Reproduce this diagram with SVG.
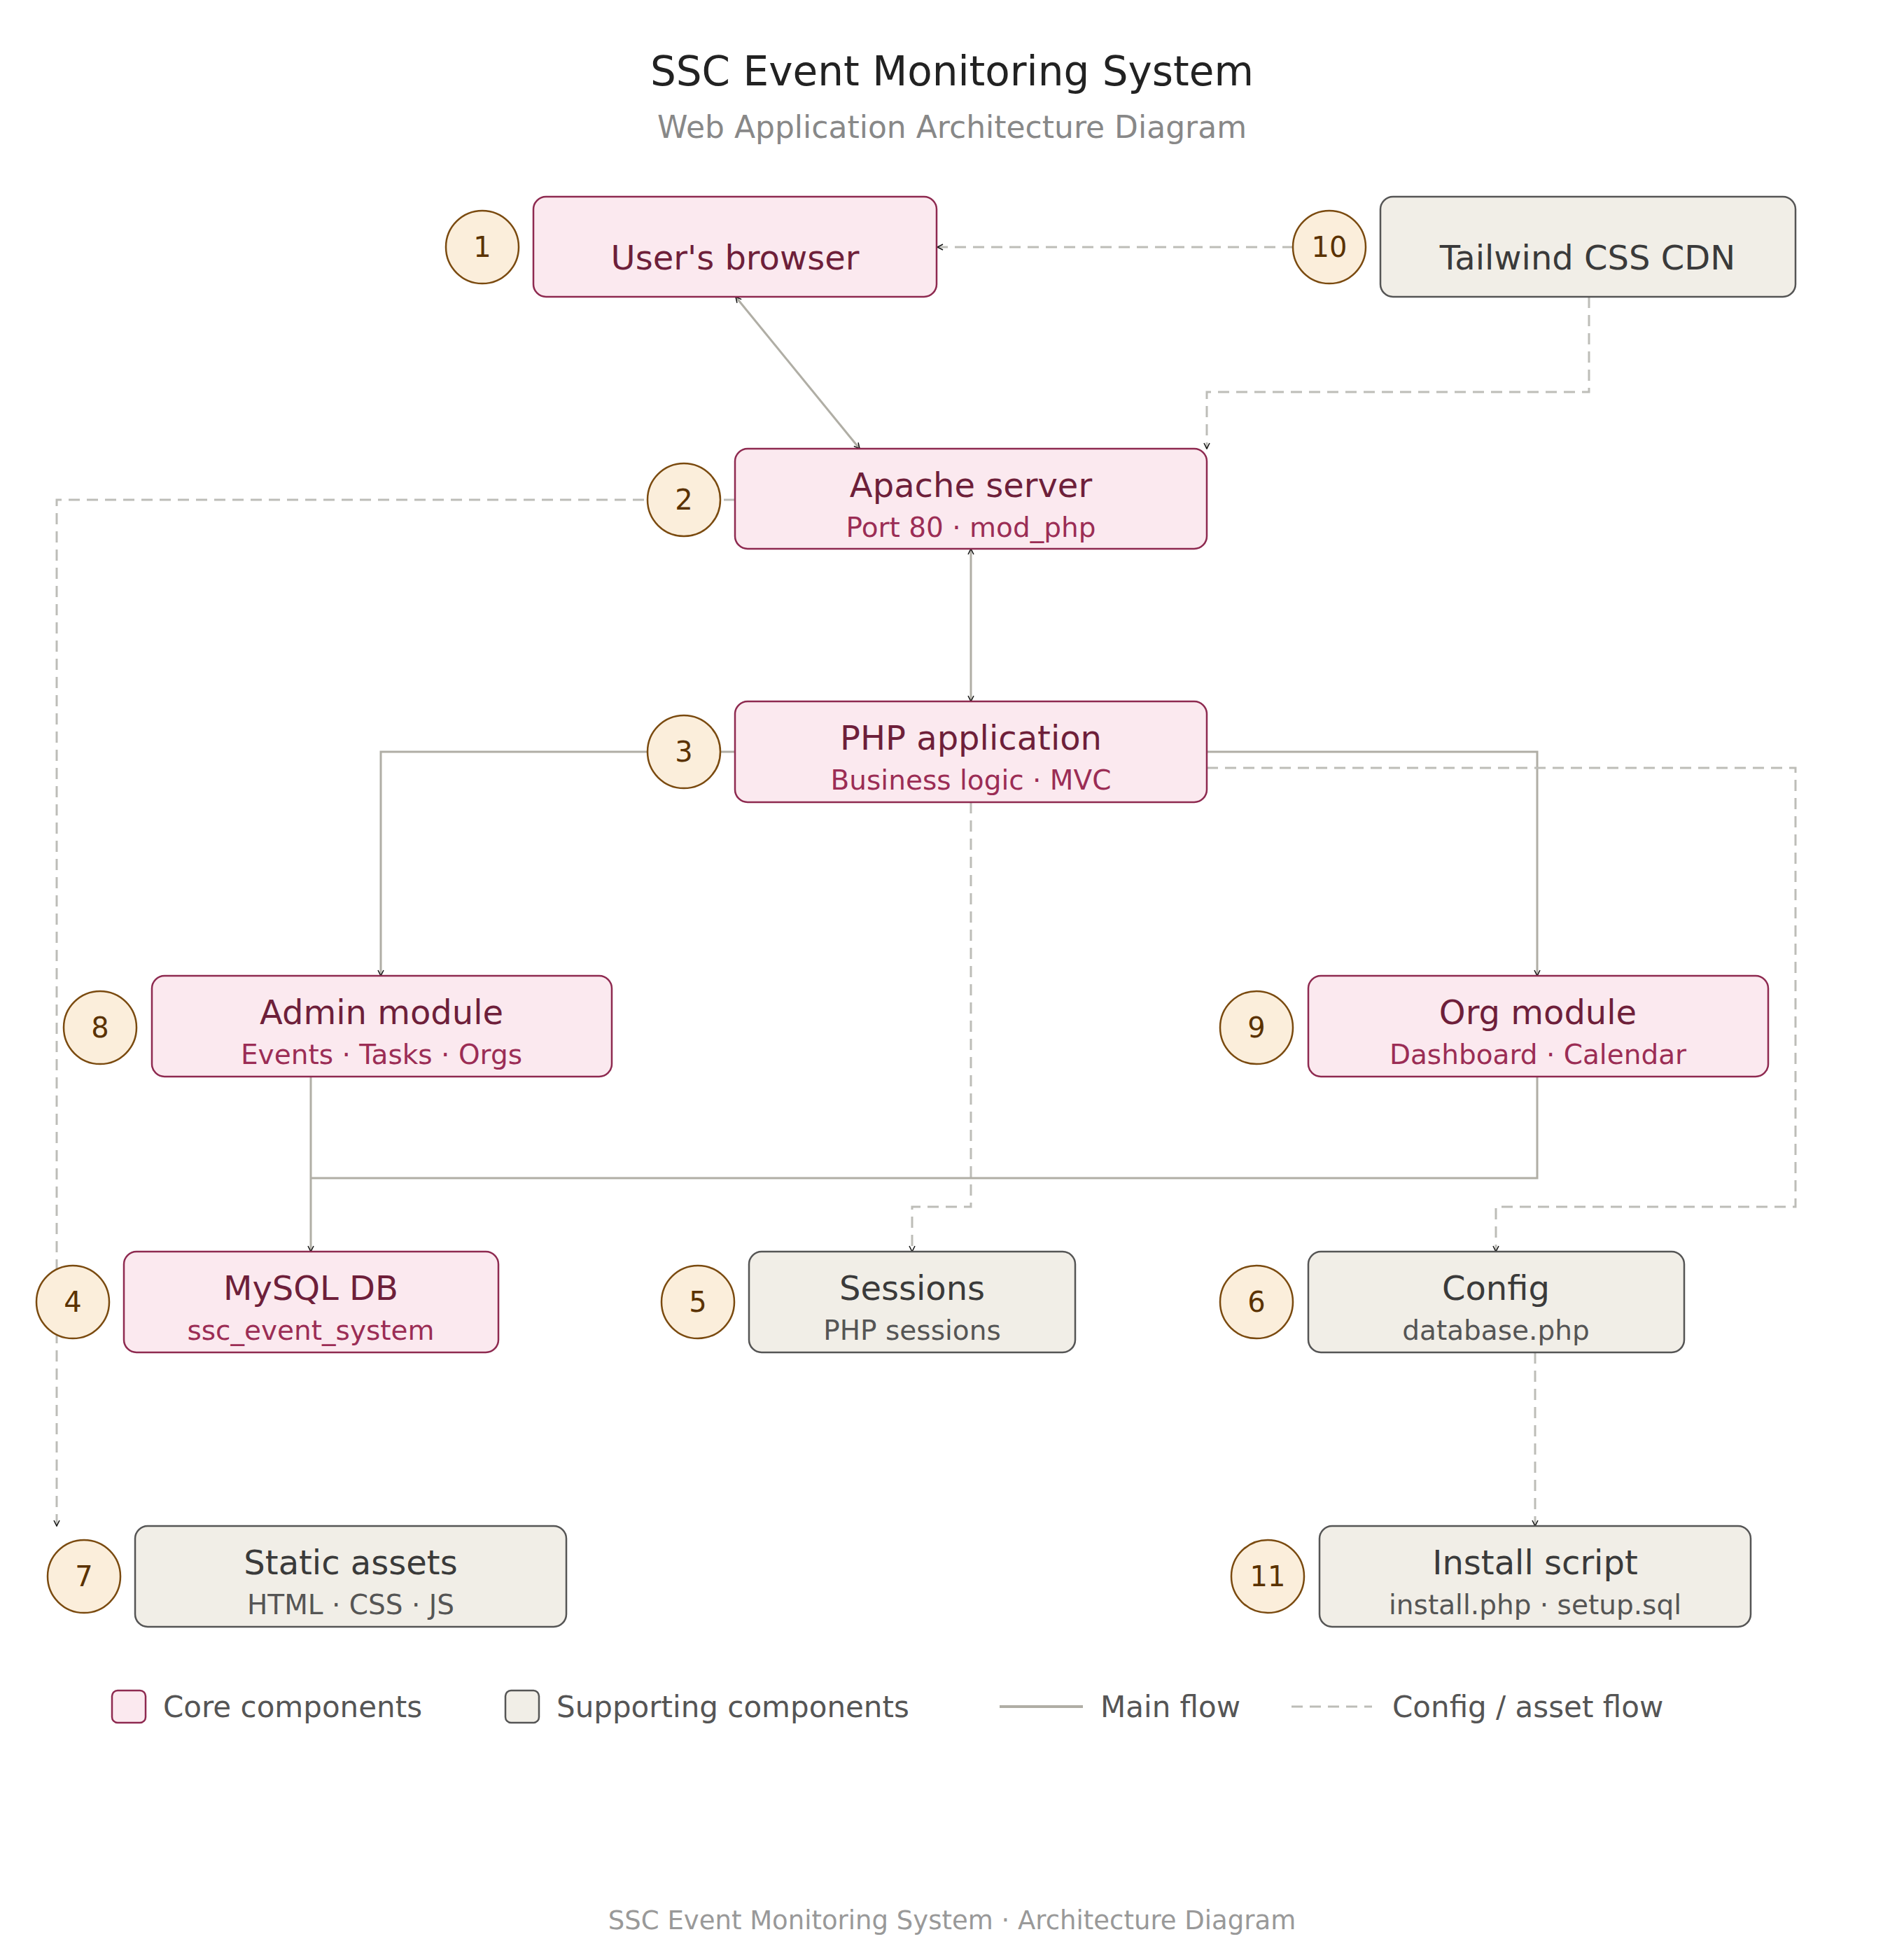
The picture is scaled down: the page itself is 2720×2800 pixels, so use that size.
<svg xmlns="http://www.w3.org/2000/svg" width="2720" height="2800" viewBox="0 0 2720 2800">
<style>
text{font-family:"DejaVu Sans","Noto Sans",sans-serif;text-anchor:middle}
.core rect{fill:#fbe9ef;stroke:#8e2a50;stroke-width:2.5}
.sup rect{fill:#f1eee7;stroke:#555;stroke-width:2.5}
.core .t{fill:#6e1f3a;font-size:48px}
.core .s{fill:#9b2d55;font-size:39px}
.sup .t{fill:#3a3a3a;font-size:48px}
.sup .s{fill:#555;font-size:39px}
.b circle{fill:#fbeedb;stroke:#7a4a0f;stroke-width:2.5}
.b text{fill:#5a3200;font-size:40px}
.m{fill:none;stroke:#b0aea5;stroke-width:3}
.d{fill:none;stroke:#bdbdb8;stroke-width:3;stroke-dasharray:16 10}
.lg{fill:#555;font-size:42px;text-anchor:start}
</style>
<defs>
<marker id="a" viewBox="0 0 10 10" refX="9" refY="5" markerWidth="10" markerHeight="10" markerUnits="userSpaceOnUse" orient="auto-start-reverse"><path d="M1,1 L9,5 L1,9" fill="none" stroke="#111" stroke-width="1.5"/></marker>
</defs>
<rect width="2720" height="2800" fill="#fff"/>
<text x="1360" y="122" font-size="58" fill="#222">SSC Event Monitoring System</text>
<text x="1360" y="197" font-size="44" fill="#888">Web Application Architecture Diagram</text>
<g id="connectors">
<path class="m" d="M1051,424 L1228,641" marker-start="url(#a)" marker-end="url(#a)"/>
<path class="d" d="M1900,353 L1339,353" marker-start="url(#a)" marker-end="url(#a)"/>
<path class="d" d="M2270,424 V560 H1724 V641" marker-end="url(#a)"/>
<path class="d" d="M1050,714 H81 V2180" marker-end="url(#a)"/>
<path class="m" d="M1387,784 V1002" marker-start="url(#a)" marker-end="url(#a)"/>
<path class="m" d="M1050,1074 H544 V1394" marker-end="url(#a)"/>
<path class="m" d="M1724,1074 H2196 V1394" marker-end="url(#a)"/>
<path class="d" d="M1724,1097 H2565 V1724 H2137 V1788" marker-end="url(#a)"/>
<path class="d" d="M1387,1146 V1724 H1303 V1788" marker-end="url(#a)"/>
<path class="m" d="M444,1538 V1788" marker-end="url(#a)"/>
<path class="m" d="M2196,1538 V1683 H444"/>
<path class="d" d="M2193,1932 V2180" marker-end="url(#a)"/>
</g>
<g id="n1" class="core"><rect x="762" y="281" width="576" height="143" rx="18"/><text class="t" x="1050" y="385">User's browser</text></g>
<g id="n10" class="sup"><rect x="1972" y="281" width="593" height="143" rx="18"/><text class="t" x="2268" y="385">Tailwind CSS CDN</text></g>
<g id="n2" class="core"><rect x="1050" y="641" width="674" height="143" rx="18"/><text class="t" x="1387" y="710">Apache server</text><text class="s" x="1387" y="767">Port 80 · mod_php</text></g>
<g id="n3" class="core"><rect x="1050" y="1002" width="674" height="144" rx="18"/><text class="t" x="1387" y="1071">PHP application</text><text class="s" x="1387" y="1128">Business logic · MVC</text></g>
<g id="n8" class="core"><rect x="217" y="1394" width="657" height="144" rx="18"/><text class="t" x="545" y="1463">Admin module</text><text class="s" x="545" y="1520">Events · Tasks · Orgs</text></g>
<g id="n9" class="core"><rect x="1869" y="1394" width="657" height="144" rx="18"/><text class="t" x="2197" y="1463">Org module</text><text class="s" x="2197" y="1520">Dashboard · Calendar</text></g>
<g id="n4" class="core"><rect x="177" y="1788" width="535" height="144" rx="18"/><text class="t" x="444" y="1857">MySQL DB</text><text class="s" x="444" y="1914">ssc_event_system</text></g>
<g id="n5" class="sup"><rect x="1070" y="1788" width="466" height="144" rx="18"/><text class="t" x="1303" y="1857">Sessions</text><text class="s" x="1303" y="1914">PHP sessions</text></g>
<g id="n6" class="sup"><rect x="1869" y="1788" width="537" height="144" rx="18"/><text class="t" x="2137" y="1857">Config</text><text class="s" x="2137" y="1914">database.php</text></g>
<g id="n7" class="sup"><rect x="193" y="2180" width="616" height="144" rx="18"/><text class="t" x="501" y="2249">Static assets</text><text class="s" x="501" y="2306">HTML · CSS · JS</text></g>
<g id="n11" class="sup"><rect x="1885" y="2180" width="616" height="144" rx="18"/><text class="t" x="2193" y="2249">Install script</text><text class="s" x="2193" y="2306">install.php · setup.sql</text></g>
<g id="badges" class="b">
<circle cx="689" cy="353" r="52"/><text x="689" y="367">1</text>
<circle cx="1899" cy="353" r="52"/><text x="1899" y="367">10</text>
<circle cx="977" cy="714" r="52"/><text x="977" y="728">2</text>
<circle cx="977" cy="1074" r="52"/><text x="977" y="1088">3</text>
<circle cx="143" cy="1468" r="52"/><text x="143" y="1482">8</text>
<circle cx="1795" cy="1468" r="52"/><text x="1795" y="1482">9</text>
<circle cx="104" cy="1860" r="52"/><text x="104" y="1874">4</text>
<circle cx="997" cy="1860" r="52"/><text x="997" y="1874">5</text>
<circle cx="1795" cy="1860" r="52"/><text x="1795" y="1874">6</text>
<circle cx="120" cy="2252" r="52"/><text x="120" y="2266">7</text>
<circle cx="1811" cy="2252" r="52"/><text x="1811" y="2266">11</text>
</g>
<g id="legend">
<rect x="160" y="2415" width="48" height="46" rx="8" fill="#fbe9ef" stroke="#8e2a50" stroke-width="2.5"/>
<text class="lg" x="233" y="2453">Core components</text>
<rect x="722" y="2415" width="48" height="46" rx="8" fill="#f1eee7" stroke="#555" stroke-width="2.5"/>
<text class="lg" x="795" y="2453">Supporting components</text>
<line x1="1428" y1="2438" x2="1547" y2="2438" stroke="#b0aea5" stroke-width="4"/>
<text class="lg" x="1572" y="2453">Main flow</text>
<line x1="1845" y1="2438" x2="1960" y2="2438" stroke="#bdbdb8" stroke-width="3" stroke-dasharray="16 10"/>
<text class="lg" x="1989" y="2453">Config / asset flow</text>
</g>
<text x="1360" y="2756" font-size="37" fill="#999">SSC Event Monitoring System · Architecture Diagram</text>
</svg>
